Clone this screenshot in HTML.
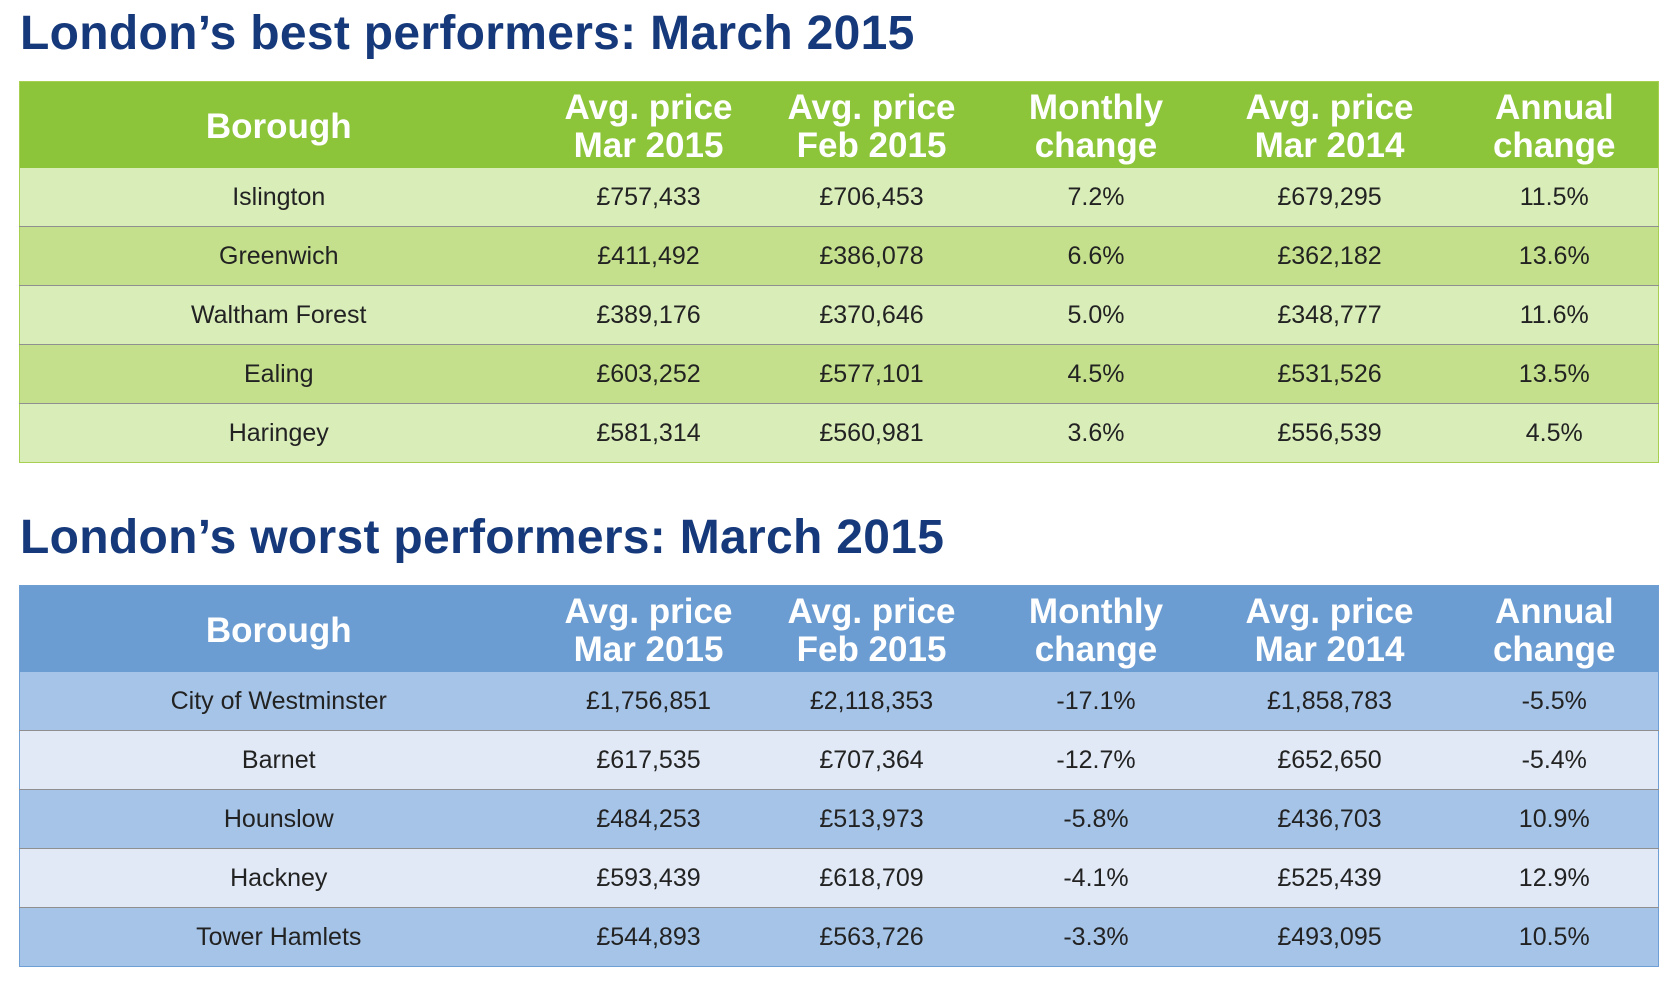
<!DOCTYPE html>
<html><head><meta charset="utf-8"><style>
body{margin:0;background:#fff;width:1676px;height:990px;position:relative;overflow:hidden;font-family:"Liberation Sans",sans-serif}
h1{position:absolute;left:20px;margin:0;font-size:48px;font-weight:bold;color:#15397a;letter-spacing:0.3px}
table{position:absolute;left:19px;width:1639px;border-collapse:collapse;table-layout:fixed}
th{color:#fff;font-size:35px;font-weight:bold;line-height:38px;height:83px;padding:3px 0 0;text-align:center}
td{height:58px;padding:0;text-align:center;font-size:25px;color:#222;border-top:1px solid #8f8f8f}
tr:nth-child(2) td{border-top:none}
.g{border:1px solid #a8d050}
.g th{background:#8cc43a}
.g tr:nth-child(even) td{background:#d9edb9}
.g tr:nth-child(odd) td{background:#c4e08c}
.b{border:1px solid #6f9fd4}
.b th{background:#6c9dd2}
.b tr:nth-child(even) td{background:#a6c4e7}
.b tr:nth-child(odd) td{background:#e0e9f5}
</style></head><body>
<h1 style="top:6px">London’s best performers: March 2015</h1>
<table class="g" style="top:81px">
<colgroup><col style="width:518px"><col style="width:222px"><col style="width:224px"><col style="width:225px"><col style="width:242px"><col style="width:208px"></colgroup>
<tr><th>Borough</th><th>Avg. price<br>Mar 2015</th><th>Avg. price<br>Feb 2015</th><th>Monthly<br>change</th><th>Avg. price<br>Mar 2014</th><th>Annual<br>change</th></tr>
<tr><td>Islington</td><td>£757,433</td><td>£706,453</td><td>7.2%</td><td>£679,295</td><td>11.5%</td></tr>
<tr><td>Greenwich</td><td>£411,492</td><td>£386,078</td><td>6.6%</td><td>£362,182</td><td>13.6%</td></tr>
<tr><td>Waltham Forest</td><td>£389,176</td><td>£370,646</td><td>5.0%</td><td>£348,777</td><td>11.6%</td></tr>
<tr><td>Ealing</td><td>£603,252</td><td>£577,101</td><td>4.5%</td><td>£531,526</td><td>13.5%</td></tr>
<tr><td>Haringey</td><td>£581,314</td><td>£560,981</td><td>3.6%</td><td>£556,539</td><td>4.5%</td></tr>
</table>
<h1 style="top:510px">London’s worst performers: March 2015</h1>
<table class="b" style="top:585px">
<colgroup><col style="width:518px"><col style="width:222px"><col style="width:224px"><col style="width:225px"><col style="width:242px"><col style="width:208px"></colgroup>
<tr><th>Borough</th><th>Avg. price<br>Mar 2015</th><th>Avg. price<br>Feb 2015</th><th>Monthly<br>change</th><th>Avg. price<br>Mar 2014</th><th>Annual<br>change</th></tr>
<tr><td>City of Westminster</td><td>£1,756,851</td><td>£2,118,353</td><td>-17.1%</td><td>£1,858,783</td><td>-5.5%</td></tr>
<tr><td>Barnet</td><td>£617,535</td><td>£707,364</td><td>-12.7%</td><td>£652,650</td><td>-5.4%</td></tr>
<tr><td>Hounslow</td><td>£484,253</td><td>£513,973</td><td>-5.8%</td><td>£436,703</td><td>10.9%</td></tr>
<tr><td>Hackney</td><td>£593,439</td><td>£618,709</td><td>-4.1%</td><td>£525,439</td><td>12.9%</td></tr>
<tr><td>Tower Hamlets</td><td>£544,893</td><td>£563,726</td><td>-3.3%</td><td>£493,095</td><td>10.5%</td></tr>
</table>
</body></html>
